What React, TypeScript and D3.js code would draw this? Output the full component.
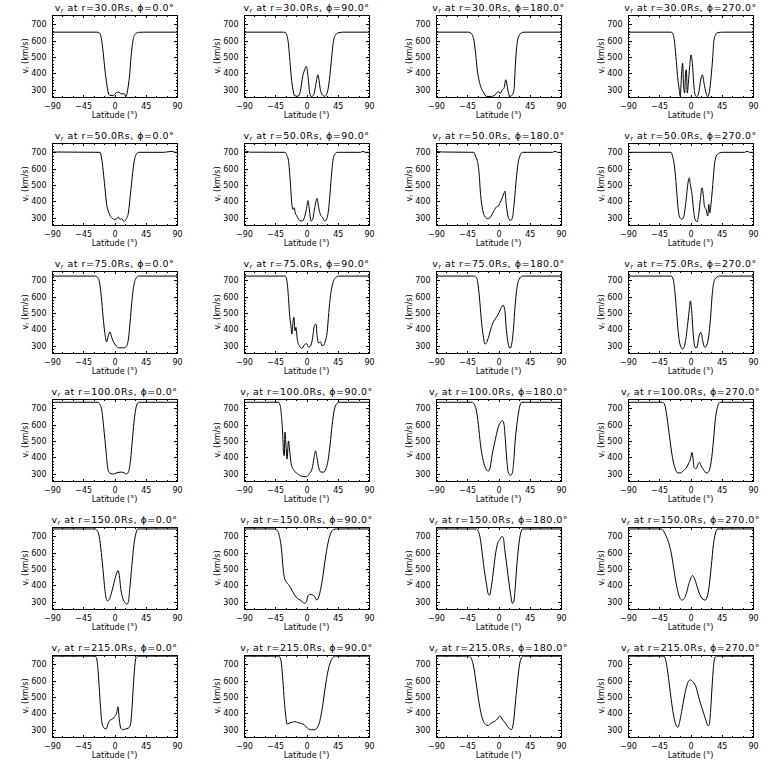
import { useRef, useEffect } from "react";
import * as d3 from "d3";

type Pt = [number, number];

const radii = [30, 50, 75, 100, 150, 215];
const phis = [0, 90, 180, 270];
const xTicks = [-90, -45, 0, 45, 90];
const yTicks = [300, 400, 500, 600, 700];
const latRange: [number, number] = [-90, 90];
const vRange: [number, number] = [255.5, 757];

// r = 30 Rs
const r30phi0: Pt[] = [[-90,652],[-25,652],[-21,645],[-18.6,605],[-16.2,523],[-13.8,422],[-11.3,340],[-8.9,280],[-6.5,265],[-1.7,265],[0.7,276],[5.5,286],[10.4,274],[13.8,276],[16.6,259],[19,300],[21.5,381],[23.9,503],[26.3,594],[29.7,639],[34.5,651],[41.7,652],[90,652]];
const r30phi90: Pt[] = [[-90,652],[-33,652],[-30.6,650],[-26.8,605],[-24.4,503],[-22,381],[-19.5,300],[-17.1,263],[-12.3,260],[-8.9,290],[-5.5,381],[-2.7,422],[-0.2,442],[2.2,381],[4.6,280],[7,257],[10.4,270],[13.8,340],[16.2,391],[17.6,371],[20,300],[22.4,270],[26.3,260],[29.7,280],[33,361],[35.9,483],[38.4,584],[41.7,635],[46.6,649],[53.8,652],[90,652]];
const r30phi180: Pt[] = [[-90,652],[-43,652],[-39.3,645],[-35.5,605],[-33,523],[-30.6,422],[-28.2,361],[-24.9,310],[-21,280],[-17.6,259],[-11.3,259],[-6.5,263],[-3.1,276],[-0.2,290],[2.2,276],[5.5,300],[8,310],[10.4,361],[11.8,340],[13.8,290],[16.6,259],[20,270],[22.4,300],[23.9,422],[25.8,544],[28.2,615],[32.1,645],[36.9,652],[90,652]];
const r30phi270: Pt[] = [[-90,652],[-28,652],[-25.8,645],[-23.4,605],[-21,503],[-18.6,381],[-16.2,300],[-14.7,259],[-13.3,361],[-11.3,462],[-9.9,320],[-8.4,280],[-7,412],[-6,422],[-4.6,280],[-3.1,340],[-1.2,442],[0.7,513],[2.7,462],[4.6,340],[6.5,270],[8.9,257],[11.8,280],[14.7,361],[17.1,391],[19.5,340],[22.4,280],[24.9,257],[27.3,290],[29.7,381],[32.1,503],[33.5,594],[35.9,635],[39.3,649],[46.6,652],[90,652]];

// r = 50 Rs
const r50phi0: Pt[] = [[-90,702],[-21,700],[-18.6,665],[-16.2,584],[-13.8,483],[-11.3,381],[-8.9,340],[-6.5,314],[-3.1,296],[0.7,290],[3.1,294],[5.5,304],[8,290],[10.4,294],[13.8,276],[16.6,290],[20,330],[22.4,422],[24.9,523],[27.3,615],[31.1,686],[34.5,700],[70.7,700],[78,704],[82.9,706],[87.7,700],[90,701]];
const r50phi90: Pt[] = [[-90,700],[-86,706],[-82,701],[-30.6,700],[-28.2,680],[-25.8,645],[-23.4,523],[-21,381],[-19.5,350],[-17.6,361],[-16.2,330],[-13.8,310],[-10.4,284],[-6.5,280],[-3.1,300],[-0.2,351],[2.2,405],[4.1,351],[6.5,280],[8.9,290],[11.8,361],[15.2,418],[17.6,361],[20,320],[23.4,300],[26.3,280],[29.7,300],[32.1,361],[34.5,483],[36.9,605],[39.3,676],[44.2,700],[78,700],[81.4,706],[84.3,700],[90,700]];
const r50phi180: Pt[] = [[-90,706],[-81,702],[-35.5,700],[-33,676],[-30.6,649],[-28.2,584],[-25.8,442],[-23.4,361],[-20,310],[-16.2,294],[-12.3,300],[-8.9,324],[-5.5,351],[-2.7,367],[-0.2,371],[2.2,391],[5.5,422],[8,452],[9.4,462],[10.9,391],[12.8,330],[15.2,290],[17.6,284],[20,300],[22.4,381],[24.9,503],[27.3,605],[30.6,676],[34.5,700],[78,700],[81.4,706],[85.3,700],[90,700]];
const r50phi270: Pt[] = [[-90,700],[-28,700],[-25.8,676],[-23.4,625],[-21,523],[-18.6,391],[-16.2,310],[-12.8,290],[-9.9,304],[-6.5,401],[-3.6,513],[-1.7,544],[-0.2,503],[2.2,442],[4.6,340],[7,284],[9.4,276],[11.8,320],[14.2,412],[16.6,483],[18.6,432],[20,371],[22.4,351],[24.9,310],[26.3,381],[27.8,330],[29.7,391],[32.1,503],[34.5,625],[36.9,676],[41.7,696],[46.6,700],[78,700],[81.4,706],[85.3,700],[90,700]];

// r = 75 Rs
const r75phi0: Pt[] = [[-90,726],[-27,726],[-24,716],[-21.5,686],[-19,600],[-16.5,480],[-14,380],[-11.3,324],[-9,360],[-6.5,385],[-4,350],[-1,320],[3,296],[6,287],[14,287],[17.6,300],[20,340],[22.4,442],[24.9,564],[27.3,655],[30.6,710],[34.5,726],[90,726]];
const r75phi90: Pt[] = [[-90,726],[-30.6,726],[-28.2,696],[-25.8,584],[-24.4,493],[-22.4,422],[-21,371],[-19.5,442],[-18.1,473],[-16.6,391],[-15.2,412],[-13.3,340],[-10.4,300],[-6.5,284],[-3.1,304],[-0.2,314],[3.1,290],[6.5,304],[8.9,351],[11.3,422],[13.8,432],[15.2,361],[17.6,316],[20,324],[22.4,300],[24.9,304],[27.3,330],[29.7,381],[32.1,503],[34.5,605],[36.9,665],[41.7,716],[46.6,726],[90,726]];
const r75phi180: Pt[] = [[-90,726],[-35.5,726],[-31.6,716],[-29.2,665],[-26.8,564],[-24.4,442],[-22,361],[-19.5,310],[-17.1,320],[-13.8,361],[-10.4,412],[-6.5,452],[-3.1,473],[0.7,503],[4.1,534],[6.5,548],[8.9,523],[11.3,401],[13.8,316],[16.6,284],[19,310],[21.5,401],[23.9,544],[26.3,645],[29.7,706],[34.5,726],[90,726]];
const r75phi270: Pt[] = [[-90,726],[-28,726],[-24.9,706],[-22.4,625],[-20,503],[-17.6,381],[-15.2,310],[-11.3,280],[-7.5,320],[-4.1,432],[-1.7,523],[-0.2,574],[1.7,513],[4.1,361],[6.5,290],[9.4,290],[11.8,351],[15.2,381],[17.6,330],[20.5,290],[23.4,304],[26.3,361],[28.7,462],[31.1,605],[33.5,686],[36.9,716],[41.7,726],[90,726]];

// r = 100 Rs
const r100phi0: Pt[] = [[-90,737],[-24,737],[-21,725],[-18,680],[-15,560],[-12,430],[-10,340],[-7,305],[-3,298],[0,300],[5,308],[10,310],[14,305],[17,298],[20,310],[23,380],[26,520],[29,650],[32,720],[35,737],[90,737]];
const r100phi90: Pt[] = [[-90,737],[-41,737],[-38,720],[-36,650],[-34,520],[-33,420],[-32,410],[-31,555],[-29.5,470],[-28,390],[-26,500],[-24,430],[-22,360],[-18,320],[-13,300],[-7,285],[0,282],[4,300],[8,330],[11,400],[13,440],[15,400],[18,330],[21,310],[25,310],[28,330],[31,380],[34,480],[37,600],[40,690],[43,725],[47,737],[90,737]];
const r100phi180: Pt[] = [[-90,737],[-38,737],[-35,725],[-32,690],[-29,600],[-26,480],[-22,380],[-18,330],[-15,315],[-12,340],[-9,420],[-6,480],[-3,540],[0,590],[3,615],[6,625],[8,600],[10,500],[12,380],[14,310],[17,290],[20,305],[22,380],[24,500],[27,620],[30,700],[33,737],[90,737]];
const r100phi270: Pt[] = [[-90,737],[-40,737],[-37,720],[-34,650],[-30,520],[-26,400],[-22,330],[-18,305],[-14,305],[-10,320],[-6,335],[-3,360],[0,390],[2,430],[3.5,400],[5,340],[8,330],[11,360],[13,370],[15,350],[18,330],[21,310],[24,305],[27,320],[30,380],[33,500],[36,640],[39,710],[42,737],[90,737]];

// r = 150 Rs
const r150phi0: Pt[] = [[-90,745],[-28,745],[-25,735],[-22,700],[-19,600],[-16,470],[-14,380],[-12,320],[-10,305],[-7,320],[-4,360],[-1,410],[2,460],[5,490],[7,460],[9,380],[12,320],[15,295],[18,285],[20,300],[22,380],[25,520],[28,650],[31,720],[34,745],[90,745]];
const r150phi90: Pt[] = [[-90,745],[-45,745],[-42,735],[-39,700],[-36,620],[-34,520],[-32,450],[-29,420],[-25,400],[-21,370],[-17,340],[-13,320],[-9,310],[-6,300],[-3,290],[0,300],[2,335],[5,345],[9,340],[12,330],[15,310],[19,350],[23,440],[27,560],[31,660],[35,720],[39,742],[43,745],[90,745]];
const r150phi180: Pt[] = [[-90,745],[-32,745],[-29,730],[-26,680],[-23,580],[-20,480],[-17,400],[-15,350],[-13,340],[-10,400],[-7,500],[-4,600],[-1,660],[2,680],[5,700],[7,690],[9,620],[12,520],[15,420],[18,330],[20,290],[22,300],[24,380],[26,500],[29,640],[32,720],[35,745],[90,745]];
const r150phi270: Pt[] = [[-90,745],[-42,745],[-39,735],[-36,710],[-33,680],[-30,640],[-27,580],[-24,500],[-21,420],[-18,360],[-15,320],[-12,310],[-9,320],[-6,350],[-3,400],[0,440],[3,460],[6,440],[9,400],[12,360],[15,330],[18,315],[21,310],[24,330],[27,400],[30,520],[33,650],[36,720],[39,745],[90,745]];

// r = 215 Rs
const r215phi0: Pt[] = [[-90,750],[-28,750],[-26,740],[-24,680],[-22,560],[-20,430],[-18,340],[-15,310],[-12,305],[-9,340],[-6,360],[-3,365],[0,380],[3,400],[5,440],[7,360],[9,310],[12,300],[16,305],[20,310],[23,330],[25,420],[27,560],[29,680],[31,740],[34,750],[90,750]];
const r215phi90: Pt[] = [[-90,750],[-40,750],[-38,740],[-36,700],[-34,600],[-32,480],[-30,390],[-28,335],[-25,340],[-21,345],[-17,350],[-13,345],[-9,340],[-5,335],[-1,320],[3,305],[7,300],[11,300],[15,310],[19,350],[23,440],[27,560],[31,660],[35,720],[39,745],[42,750],[90,750]];
const r215phi180: Pt[] = [[-90,750],[-42,750],[-39,735],[-36,690],[-33,610],[-30,520],[-27,440],[-24,380],[-21,345],[-18,330],[-15,325],[-12,335],[-9,345],[-6,350],[-3,360],[0,375],[2,385],[4,375],[7,355],[10,340],[13,320],[16,305],[18,300],[20,310],[22,360],[24,450],[27,580],[30,690],[33,740],[36,750],[90,750]];
const r215phi270: Pt[] = [[-90,750],[-38,750],[-36,730],[-33,660],[-30,560],[-27,460],[-24,380],[-21,330],[-18,315],[-15,360],[-12,430],[-9,500],[-6,560],[-3,595],[0,605],[3,595],[6,580],[8,560],[10,530],[13,480],[16,440],[19,400],[22,360],[25,325],[27,330],[29,420],[31,560],[33,680],[35,740],[38,750],[90,750]];

const profiles: Pt[][][] = [
    [r30phi0, r30phi90, r30phi180, r30phi270],
    [r50phi0, r50phi90, r50phi180, r50phi270],
    [r75phi0, r75phi90, r75phi180, r75phi270],
    [r100phi0, r100phi90, r100phi180, r100phi270],
    [r150phi0, r150phi90, r150phi180, r150phi270],
    [r215phi0, r215phi90, r215phi180, r215phi270],
];

const font = "'DejaVu Sans', sans-serif";

export default function App() {
    const svgRef = useRef<SVGSVGElement>(null);

    useEffect(() => {
        if (!svgRef.current) return;
        const svg = d3.select(svgRef.current);
        svg.selectAll("*").remove();

        const cellW = 192;
        const cellH = 128;
        const plot = { left: 52, right: 177, top: 15, bottom: 97 };

        const x = d3.scaleLinear().domain(latRange).range([plot.left, plot.right]);
        const y = d3.scaleLinear().domain(vRange).range([plot.bottom, plot.top]);

        const line = d3
            .line<Pt>()
            .x((d) => x(d[0]))
            .y((d) => y(d[1]))
            .curve(d3.curveMonotoneX);

        const xMinor = d3.range(-90, 91, 15).filter((v) => v % 45 !== 0);
        const yMinor = d3.range(260, 757, 20).filter((v) => v % 100 !== 0);

        radii.forEach((r, i) => {
            phis.forEach((phi, j) => {
                const g = svg
                    .append("g")
                    .attr("transform", `translate(${j * cellW},${i * cellH})`);
                const clipId = `clip-${i}-${j}`;
                g.append("clipPath")
                    .attr("id", clipId)
                    .append("rect")
                    .attr("x", plot.left)
                    .attr("y", plot.top)
                    .attr("width", plot.right - plot.left)
                    .attr("height", plot.bottom - plot.top);

                // frame
                g.append("rect")
                    .attr("x", plot.left + 0.5)
                    .attr("y", plot.top + 0.5)
                    .attr("width", plot.right - plot.left)
                    .attr("height", plot.bottom - plot.top)
                    .attr("fill", "none")
                    .attr("stroke", "#000")
                    .attr("shape-rendering", "crispEdges");

                // small IDL-style ticks on all four sides
                const ticks = g
                    .append("g")
                    .attr("stroke", "#000")
                    .attr("shape-rendering", "crispEdges");
                const xTick = (v: number, len: number) => {
                    const px = Math.round(x(v)) + 0.5;
                    ticks.append("line").attr("x1", px).attr("x2", px)
                        .attr("y1", plot.bottom).attr("y2", plot.bottom - len);
                    ticks.append("line").attr("x1", px).attr("x2", px)
                        .attr("y1", plot.top + 1).attr("y2", plot.top + 1 + len);
                };
                const yTick = (v: number, len: number) => {
                    const py = Math.round(y(v)) + 0.5;
                    ticks.append("line").attr("y1", py).attr("y2", py)
                        .attr("x1", plot.left + 1).attr("x2", plot.left + 1 + len);
                    ticks.append("line").attr("y1", py).attr("y2", py)
                        .attr("x1", plot.right).attr("x2", plot.right - len);
                };
                xTicks.forEach((v) => xTick(v, 2));
                xMinor.forEach((v) => xTick(v, 1));
                yTicks.forEach((v) => yTick(v, 3));
                yMinor.forEach((v) => yTick(v, 1));

                // data
                g.append("path")
                    .datum(profiles[i][j])
                    .attr("clip-path", `url(#${clipId})`)
                    .attr("d", line)
                    .attr("fill", "none")
                    .attr("stroke", "#000")
                    .attr("stroke-width", 1);

                // tick labels
                g.append("g")
                    .selectAll("text")
                    .data(xTicks)
                    .enter()
                    .append("text")
                    .attr("x", (d) => x(d) + 0.5)
                    .attr("y", 108.5)
                    .attr("text-anchor", "middle")
                    .attr("font-family", font)
                    .attr("font-size", 8)
                    .text((d) => d3.format("d")(d));

                g.append("g")
                    .selectAll("text")
                    .data(yTicks)
                    .enter()
                    .append("text")
                    .attr("x", 46.5)
                    .attr("y", (d) => y(d) + 3)
                    .attr("text-anchor", "end")
                    .attr("font-family", font)
                    .attr("font-size", 8)
                    .text((d) => d);

                // axis titles
                g.append("text")
                    .attr("x", (plot.left + plot.right) / 2)
                    .attr("y", 118)
                    .attr("text-anchor", "middle")
                    .attr("font-family", font)
                    .attr("font-size", 8)
                    .text("Latitude (°)");

                const yl = g
                    .append("text")
                    .attr("transform", `translate(27.5,${(plot.top + plot.bottom) / 2}) rotate(-90)`)
                    .attr("text-anchor", "middle")
                    .attr("font-family", font)
                    .attr("font-size", 8);
                yl.append("tspan").text("v");
                yl.append("tspan").attr("font-size", 5.5).attr("dy", 1.5).text("r");
                yl.append("tspan").attr("dy", -1.5).text(" (km/s)");

                // panel title
                const t = g
                    .append("text")
                    .attr("x", (plot.left + plot.right) / 2)
                    .attr("y", 10.5)
                    .attr("text-anchor", "middle")
                    .attr("font-family", font)
                    .attr("font-size", 9.5)
                    .attr("letter-spacing", 0.5);
                t.append("tspan").text("v");
                t.append("tspan").attr("font-size", 6.5).attr("dy", 2).text("r");
                t.append("tspan")
                    .attr("dy", -2)
                    .text(` at r=${r.toFixed(1)}Rs, ϕ=${phi.toFixed(1)}°`);
            });
        });
    }, []);

    return (
        <svg
            ref={svgRef}
            width={768}
            height={768}
            style={{ position: "absolute", left: 0, top: 0, background: "#fff" }}
        />
    );
}
